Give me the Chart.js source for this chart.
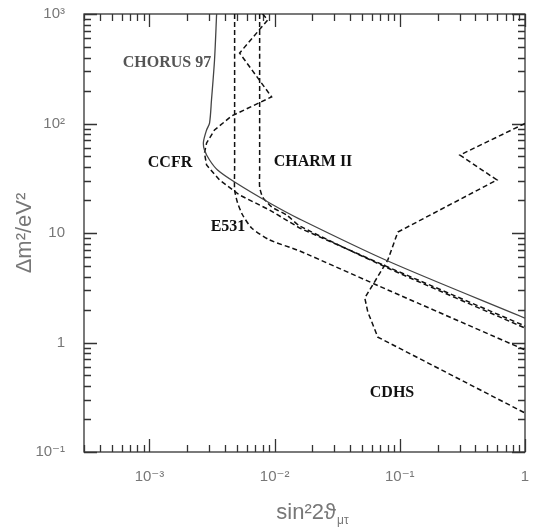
<!DOCTYPE html>
<html><head><meta charset="utf-8">
<script src="https://cdn.jsdelivr.net/npm/chart.js@4.4.0/dist/chart.umd.min.js"></script>
<style>html,body{margin:0;padding:0;background:#fff;}</style>
</head><body>
<canvas id="c" width="537" height="529"></canvas>
<script>
// ---- tick values / labels ----
const xTickValues = [1e-3, 1e-2, 1e-1, 1];
const xTickLabels = ['10\u207B\u00B3', '10\u207B\u00B2', '10\u207B\u00B9', '1'];
const yTickValues = [0.1, 1, 10, 100, 1000];
const yTickLabels = ['10\u207B\u00B9', '1', '10', '10\u00B2', '10\u00B3'];

// ---- series (sin^2 2theta, dm^2) ----
const chorusX = [3.44e-3, 3.31e-3, 3.13e-3, 3.02e-3, 2.86e-3, 2.70e-3, 2.75e-3, 3.02e-3, 3.50e-3, 4.79e-3, 9.12e-3, 0.01585, 0.0802, 1];
const chorusY = [1000, 380, 164, 101, 87.2, 67.7, 57.3, 46.4, 37.6, 29.2, 18.8, 13.4, 5.55, 1.67];

const ccfrX = [8.02e-3, 8.79e-3, 5.25e-3, 9.46e-3, 4.53e-3, 3.31e-3, 2.86e-3, 2.75e-3, 2.86e-3, 3.63e-3, 5.25e-3, 9.12e-3, 0.01585, 0.0802, 1];
const ccfrY = [1000, 881, 440, 175, 117, 87.3, 66.4, 53.8, 41.8, 30.5, 22.2, 16.2, 11.1, 4.89, 1.415];

const charmX = [7.59e-3, 7.59e-3, 7.59e-3, 8.02e-3, 9.46e-3, 0.01247, 0.01585, 0.0802, 1];
const charmY = [1000, 37.6, 26.3, 21.3, 17.3, 14.6, 11.6, 4.79, 1.356];

const e531X = [4.79e-3, 4.79e-3, 4.79e-3, 5.06e-3, 5.55e-3, 6.55e-3, 9.12e-3, 0.01585, 0.0802, 1];
const e531Y = [1000, 40.1, 24.7, 18.8, 14.6, 11.1, 8.63, 6.85, 3.02, 0.855];

const cdhsX = [1, 0.302, 0.597, 0.0964, 0.0802, 0.0525, 0.0555, 0.0667, 1];
const cdhsY = [100, 51.5, 30.5, 10.2, 5.67, 2.55, 1.90, 1.12, 0.227];

const labelTexts = ['CHORUS 97', 'CCFR', 'CHARM II', 'E531', 'CDHS'];

// ---- styling / layout (not data) ----
const labelPos = [[167, 63, '#555'], [170, 163, '#111'], [313, 162, '#111'], [228, 227, '#111'], [392, 393, '#111']];

function pts(xs, ys) { return xs.map((v, i) => ({x: v, y: ys[i]})); }
function dashed(d) {
  return {data: d, borderColor: '#111', borderWidth: 1.5, borderDash: [5, 3], pointRadius: 0, fill: false, tension: 0};
}

const frameTicks = {
  id: 'frameTicks',
  beforeDatasetsDraw(chart) {
    const {ctx, chartArea: a, scales: {x, y}} = chart;
    ctx.save();
    ctx.strokeStyle = '#333';
    ctx.lineWidth = 1.3;
    ctx.strokeRect(a.left, a.top, a.right - a.left, a.bottom - a.top);
    ctx.beginPath();
    for (let e = -4; e <= 0; e++) {
      for (let m = 1; m <= 9; m++) {
        const v = m * Math.pow(10, e);
        if (v < x.min * 0.999 || v > x.max * 1.001) continue;
        const p = Math.round(x.getPixelForValue(v)) + 0.5;
        const L = m === 1 ? 13 : 7;
        ctx.moveTo(p, a.bottom); ctx.lineTo(p, a.bottom - L);
        ctx.moveTo(p, a.top); ctx.lineTo(p, a.top + L);
      }
    }
    for (let e = -1; e <= 3; e++) {
      for (let m = 1; m <= 9; m++) {
        const v = m * Math.pow(10, e);
        if (v < y.min * 0.999 || v > y.max * 1.001) continue;
        const p = Math.round(y.getPixelForValue(v)) + 0.5;
        const L = m === 1 ? 13 : 7;
        ctx.moveTo(a.left, p); ctx.lineTo(a.left + L, p);
        ctx.moveTo(a.right, p); ctx.lineTo(a.right - L, p);
      }
    }
    ctx.stroke();
    ctx.restore();
  },
  afterDatasetsDraw(chart) {
    const {ctx} = chart;
    ctx.save();
    ctx.font = 'bold 16px "Liberation Serif", "Times New Roman", serif';
    ctx.textAlign = 'center';
    ctx.textBaseline = 'middle';
    labelTexts.forEach((t, i) => {
      ctx.fillStyle = labelPos[i][2];
      ctx.fillText(t, labelPos[i][0], labelPos[i][1]);
    });
    // x-axis title with subscript
    const main = 'sin\u00B22\u03D1', sub = '\u03BC\u03C4';
    ctx.fillStyle = '#777';
    ctx.textBaseline = 'alphabetic';
    ctx.textAlign = 'left';
    ctx.font = '22px "Liberation Sans", "DejaVu Sans", sans-serif';
    const w1 = ctx.measureText(main).width;
    ctx.font = '12px "Liberation Sans", "DejaVu Sans", sans-serif';
    const w2 = ctx.measureText(sub).width;
    const x0 = 312 - (w1 + w2) / 2;
    ctx.font = '22px "Liberation Sans", "DejaVu Sans", sans-serif';
    ctx.fillText(main, x0, 519);
    ctx.font = '12px "Liberation Sans", "DejaVu Sans", sans-serif';
    ctx.fillText(sub, x0 + w1 + 1, 524);
    ctx.restore();
  }
};

function zeroPad(s) { s.paddingLeft = 0; s.paddingRight = 0; s.paddingTop = 0; s.paddingBottom = 0; }

new Chart(document.getElementById('c'), {
  type: 'line',
  data: {
    datasets: [
      {data: pts(chorusX, chorusY), borderColor: '#444', borderWidth: 1.3, pointRadius: 0, fill: false, tension: 0.3},
      dashed(pts(ccfrX, ccfrY)),
      Object.assign(dashed(pts(charmX, charmY)), {tension: 0.2}),
      Object.assign(dashed(pts(e531X, e531Y)), {tension: 0.2}),
      dashed(pts(cdhsX, cdhsY))
    ]
  },
  options: {
    responsive: false,
    animation: false,
    events: [],
    layout: {padding: {top: 14, right: 12, left: 0, bottom: 0}},
    plugins: {legend: {display: false}, tooltip: {enabled: false}},
    scales: {
      x: {
        type: 'logarithmic', min: 3e-4, max: 1,
        grid: {display: false, drawTicks: false},
        border: {display: false},
        afterBuildTicks: s => { s.ticks = xTickValues.map(v => ({value: v, major: true})); },
        afterFit: s => { s.height = 77; zeroPad(s); },
        ticks: {
          autoSkip: false, maxRotation: 0, padding: 16, color: '#777',
          font: {family: '"Liberation Sans", "DejaVu Sans", sans-serif', size: 15},
          callback: (v, i) => xTickLabels[i]
        },
        title: {display: false}
      },
      y: {
        type: 'logarithmic', min: 0.1, max: 1000,
        grid: {display: false, drawTicks: false},
        border: {display: false},
        afterBuildTicks: s => { s.ticks = yTickValues.map(v => ({value: v, major: true})); },
        afterFit: s => { s.width = 84; zeroPad(s); },
        ticks: {
          autoSkip: false, padding: 19, color: '#777',
          font: {family: '"Liberation Sans", "DejaVu Sans", sans-serif', size: 15},
          callback: (v, i) => yTickLabels[i]
        },
        title: {
          display: true, text: '\u0394m\u00B2/eV\u00B2', color: '#777',
          font: {family: '"Liberation Sans", "DejaVu Sans", sans-serif', size: 22},
          padding: {top: 12, bottom: 0}
        }
      }
    }
  },
  plugins: [frameTicks]
});
</script>
</body></html>
